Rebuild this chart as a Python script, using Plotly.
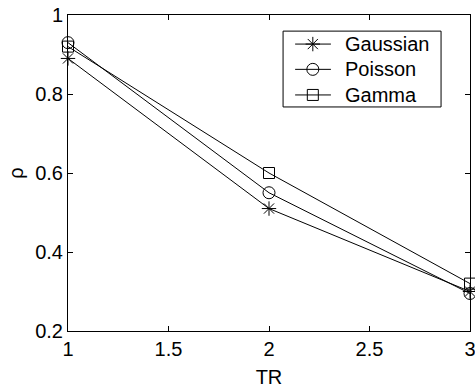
import plotly.graph_objects as go

tr = [1, 2, 3]
gaussian = [0.89, 0.51, 0.30]
poisson = [0.93, 0.55, 0.295]
gamma = [0.92, 0.60, 0.32]
series_names = ["Gaussian", "Poisson", "Gamma"]
x_ticks = [1, 1.5, 2, 2.5, 3]
x_ticklabels = ["1", "1.5", "2", "2.5", "3"]
y_ticks = [0.2, 0.4, 0.6, 0.8, 1]
y_ticklabels = ["0.2", "0.4", "0.6", "0.8", "1"]

FONT = "Liberation Sans, Arial, sans-serif"
FS = 20
symbols = ["asterisk-open", "circle-open", "square-open"]
sizes = [12, 12, 11]

fig = go.Figure()
for name, vals, sym, sz in zip(series_names, [gaussian, poisson, gamma], symbols, sizes):
    fig.add_trace(go.Scatter(
        x=tr, y=vals, name=name, mode="lines+markers", cliponaxis=False, showlegend=False,
        line=dict(color="black", width=1),
        marker=dict(symbol=sym, size=sz, color="black", line=dict(color="black", width=1)),
    ))

# manual legend (layout positions in paper fractions of the plot area)
box = dict(x0=0.535, x1=0.928, y0=0.709, y1=0.949)
rows = [0.908, 0.828, 0.747]
lx0, lx1, lxm, tx = 0.565, 0.654, 0.609, 0.684
fig.add_shape(type="rect", xref="paper", yref="paper", line=dict(color="black", width=1),
              fillcolor="white", layer="below", **box)
for name, sym, sz, ry in zip(series_names, symbols, sizes, rows):
    fig.add_shape(type="line", xref="paper", yref="paper", x0=lx0, x1=lx1, y0=ry, y1=ry,
                  line=dict(color="black", width=1), layer="below")
    fig.add_annotation(x=tx, y=ry, xref="paper", yref="paper", text=name, showarrow=False,
                       xanchor="left", yanchor="middle",
                       font=dict(family=FONT, size=FS, color="black"))
    fig.add_trace(go.Scatter(
        x=[lxm], y=[ry], xaxis="x2", yaxis="y2", mode="markers", showlegend=False,
        hoverinfo="skip", cliponaxis=False,
        marker=dict(symbol=sym, size=sz, color="black", line=dict(color="black", width=1)),
    ))

axis_common = dict(
    showgrid=False, zeroline=False, showline=True, linecolor="black", linewidth=1,
    mirror="ticks", ticks="inside", ticklen=5, tickcolor="black",
    ticklabeloverflow="allow", automargin=False,
    tickfont=dict(family=FONT, size=FS, color="black"),
)
fig.update_layout(
    xaxis=dict(range=[1, 3], tickvals=x_ticks, ticktext=x_ticklabels,
               title=dict(text="TR", font=dict(family=FONT, size=FS, color="black"), standoff=10),
               **axis_common),
    yaxis=dict(range=[0.2, 1], tickvals=y_ticks, ticktext=y_ticklabels,
               title=dict(text="ρ", font=dict(family=FONT, size=FS, color="black"), standoff=6),
               **axis_common),
    xaxis2=dict(range=[0, 1], overlaying="x", visible=False, fixedrange=True),
    yaxis2=dict(range=[0, 1], overlaying="y", visible=False, fixedrange=True),
    width=475, height=392,
    margin=dict(l=68, r=5, t=15, b=61, autoexpand=False),
    plot_bgcolor="white", paper_bgcolor="white",
    showlegend=False,
)
fig.write_html("out.html", config={"displayModeBar": False},
               post_script="document.body.style.margin='0px';")
